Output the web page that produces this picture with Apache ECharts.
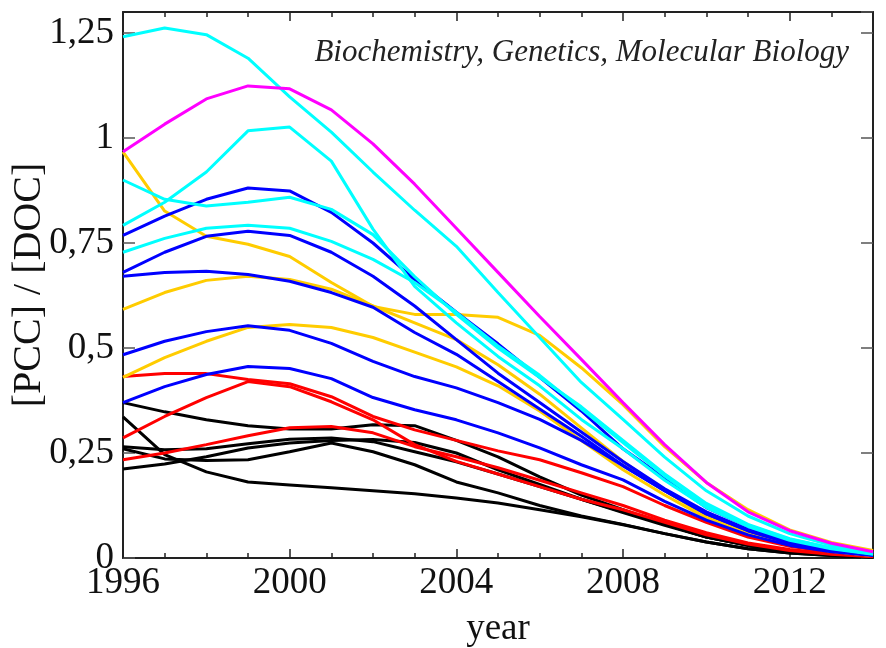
<!DOCTYPE html>
<html>
<head>
<meta charset="utf-8">
<script src="https://cdn.jsdelivr.net/npm/echarts@6/dist/echarts.min.js"></script>
<style>
  html, body { margin: 0; padding: 0; background: #fff; }
  #container { width: 886px; height: 648px; }
</style>
</head>
<body>
<div id="container"></div>
<script>
var years = [1996,1997,1998,1999,2000,2001,2002,2003,2004,2005,2006,2007,2008,2009,2010,2011,2012,2013,2014];

// cyan
var cyan1 = [1.241,1.262,1.246,1.19,1.098,1.014,0.919,0.828,0.742,0.632,0.525,0.418,0.33,0.24,0.16,0.1,0.058,0.03,0.013];
var cyan2 = [0.9,0.854,0.838,0.847,0.859,0.83,0.77,0.67,0.58,0.5,0.43,0.36,0.28,0.2,0.13,0.08,0.046,0.024,0.01];
var cyan3 = [0.792,0.847,0.919,1.017,1.026,0.945,0.783,0.647,0.56,0.48,0.41,0.33,0.26,0.185,0.12,0.075,0.042,0.022,0.009];
var cyan4 = [0.728,0.761,0.785,0.792,0.785,0.754,0.711,0.656,0.585,0.505,0.435,0.355,0.275,0.195,0.125,0.078,0.045,0.024,0.01];
// magenta
var magenta1 = [0.967,1.033,1.093,1.124,1.117,1.067,0.986,0.89,0.785,0.68,0.575,0.473,0.37,0.27,0.18,0.11,0.065,0.035,0.015];
// blue
var blue1 = [0.768,0.814,0.854,0.881,0.874,0.823,0.75,0.663,0.585,0.51,0.43,0.35,0.26,0.19,0.12,0.075,0.042,0.02,0.008];
var blue2 = [0.68,0.728,0.766,0.778,0.768,0.728,0.671,0.6,0.52,0.44,0.37,0.3,0.23,0.165,0.11,0.068,0.038,0.02,0.008];
var blue3 = [0.671,0.68,0.683,0.675,0.659,0.632,0.597,0.537,0.485,0.42,0.355,0.29,0.22,0.16,0.105,0.065,0.036,0.018,0.007];
var blue4 = [0.484,0.516,0.539,0.553,0.542,0.511,0.468,0.432,0.405,0.37,0.33,0.28,0.22,0.16,0.105,0.065,0.035,0.018,0.007];
var blue5 = [0.37,0.408,0.437,0.456,0.451,0.427,0.382,0.353,0.329,0.298,0.262,0.222,0.186,0.135,0.09,0.055,0.03,0.015,0.006];
// yellow
var yellow1 = [0.967,0.826,0.766,0.747,0.718,0.656,0.599,0.58,0.58,0.573,0.53,0.453,0.365,0.265,0.18,0.115,0.067,0.037,0.018];
var yellow2 = [0.592,0.632,0.661,0.671,0.663,0.64,0.6,0.56,0.52,0.46,0.39,0.31,0.23,0.16,0.1,0.06,0.033,0.016,0.006];
var yellow3 = [0.43,0.477,0.516,0.549,0.556,0.549,0.525,0.49,0.455,0.41,0.35,0.28,0.21,0.15,0.095,0.058,0.032,0.016,0.006];
// red
var red1 = [0.432,0.439,0.439,0.425,0.415,0.384,0.337,0.305,0.28,0.255,0.234,0.203,0.17,0.125,0.085,0.05,0.028,0.014,0.005];
var red2 = [0.286,0.337,0.382,0.42,0.408,0.372,0.329,0.27,0.23,0.2,0.17,0.14,0.115,0.085,0.055,0.033,0.018,0.009,0.003];
var red3 = [0.234,0.25,0.27,0.291,0.31,0.313,0.298,0.265,0.241,0.215,0.185,0.155,0.125,0.09,0.06,0.036,0.02,0.01,0.004];
// black
var black1 = [0.37,0.348,0.329,0.315,0.307,0.307,0.317,0.315,0.28,0.241,0.193,0.15,0.115,0.08,0.05,0.03,0.016,0.008,0.003];
var black2 = [0.336,0.246,0.205,0.181,0.174,0.167,0.16,0.153,0.143,0.131,0.115,0.098,0.079,0.058,0.038,0.022,0.012,0.006,0.002];
var black3 = [0.265,0.258,0.26,0.272,0.283,0.286,0.277,0.253,0.229,0.2,0.17,0.14,0.11,0.08,0.05,0.03,0.016,0.008,0.003];
var black4 = [0.26,0.236,0.232,0.234,0.253,0.274,0.253,0.222,0.181,0.155,0.125,0.1,0.08,0.058,0.038,0.022,0.012,0.006,0.002];
var black5 = [0.212,0.224,0.241,0.262,0.274,0.28,0.282,0.275,0.25,0.21,0.175,0.14,0.108,0.078,0.05,0.03,0.016,0.008,0.003];

var groups = [
  { color: '#000000', lines: [black1, black2, black3, black4, black5] },
  { color: '#ff0000', lines: [red1, red2, red3] },
  { color: '#ffcc00', lines: [yellow1, yellow2, yellow3] },
  { color: '#0000ff', lines: [blue1, blue2, blue3, blue4, blue5] },
  { color: '#00ffff', lines: [cyan1, cyan2, cyan3, cyan4] },
  { color: '#ff00ff', lines: [magenta1] }
];

var series = [];
groups.forEach(function (g) {
  g.lines.forEach(function (vals) {
    series.push({
      type: 'line',
      symbol: 'none',
      silent: true,
      lineStyle: { color: g.color, width: 3 },
      data: years.map(function (y, i) { return [y, vals[i]]; })
    });
  });
});

var font = 'Liberation Serif';
var fmt = function (v) { return String(v).replace('.', ','); };

var dom = document.getElementById('container');
var myChart = echarts.init(dom);
var option = {
  animation: false,
  backgroundColor: '#fff',
  title: {
    text: 'Biochemistry, Genetics, Molecular Biology',
    right: 32,
    top: 32,
    textStyle: { fontFamily: font, fontStyle: 'italic', fontWeight: 'normal', fontSize: 31, color: '#222' }
  },
  grid: { left: 123, right: 13, top: 12, bottom: 90, outerBoundsMode: 'none' },
  xAxis: [{
    type: 'value',
    min: 1996, max: 2014, interval: 4,
    name: 'year', nameLocation: 'middle', nameGap: 53, nameMoveOverlap: false,
    nameTextStyle: { fontFamily: font, fontSize: 37, color: '#111' },
    axisLine: { onZero: false, lineStyle: { color: '#222', width: 2 } },
    axisTick: { inside: true, length: 9, lineStyle: { color: '#222', width: 1.5 } },
    minorTick: { show: true, splitNumber: 4, length: 5, lineStyle: { color: '#222', width: 1.5 } },
    axisLabel: { fontFamily: font, fontSize: 37, color: '#111', margin: 7, showMaxLabel: false, formatter: function (v) { return String(v); } },
    splitLine: { show: false }
  }, {
    type: 'value', position: 'top',
    min: 1996, max: 2014, interval: 4,
    axisLine: { onZero: false, lineStyle: { color: '#222', width: 2 } },
    axisTick: { inside: true, length: 9, lineStyle: { color: '#222', width: 1.5 } },
    minorTick: { show: true, splitNumber: 4, length: 5, lineStyle: { color: '#222', width: 1.5 } },
    axisLabel: { show: false },
    splitLine: { show: false }
  }],
  yAxis: [{
    type: 'value',
    min: 0, max: 1.3, interval: 0.25,
    name: '[PCC] / [DOC]', nameLocation: 'middle', nameGap: 74, nameMoveOverlap: false,
    nameTextStyle: { fontFamily: font, fontSize: 40, color: '#111' },
    axisLine: { onZero: false, lineStyle: { color: '#222', width: 2 } },
    axisTick: { inside: true, length: 12, lineStyle: { color: '#555', width: 1.5 } },
    axisLabel: { fontFamily: font, fontSize: 37, color: '#111', margin: 9, showMaxLabel: false, formatter: fmt },
    splitLine: { show: false }
  }, {
    type: 'value', position: 'right',
    min: 0, max: 1.3, interval: 0.25,
    axisLine: { onZero: false, lineStyle: { color: '#222', width: 2 } },
    axisTick: { inside: true, length: 12, lineStyle: { color: '#555', width: 1.5 } },
    axisLabel: { show: false },
    splitLine: { show: false }
  }],
  series: series
};
myChart.setOption(option, true);
</script>
</body>
</html>
